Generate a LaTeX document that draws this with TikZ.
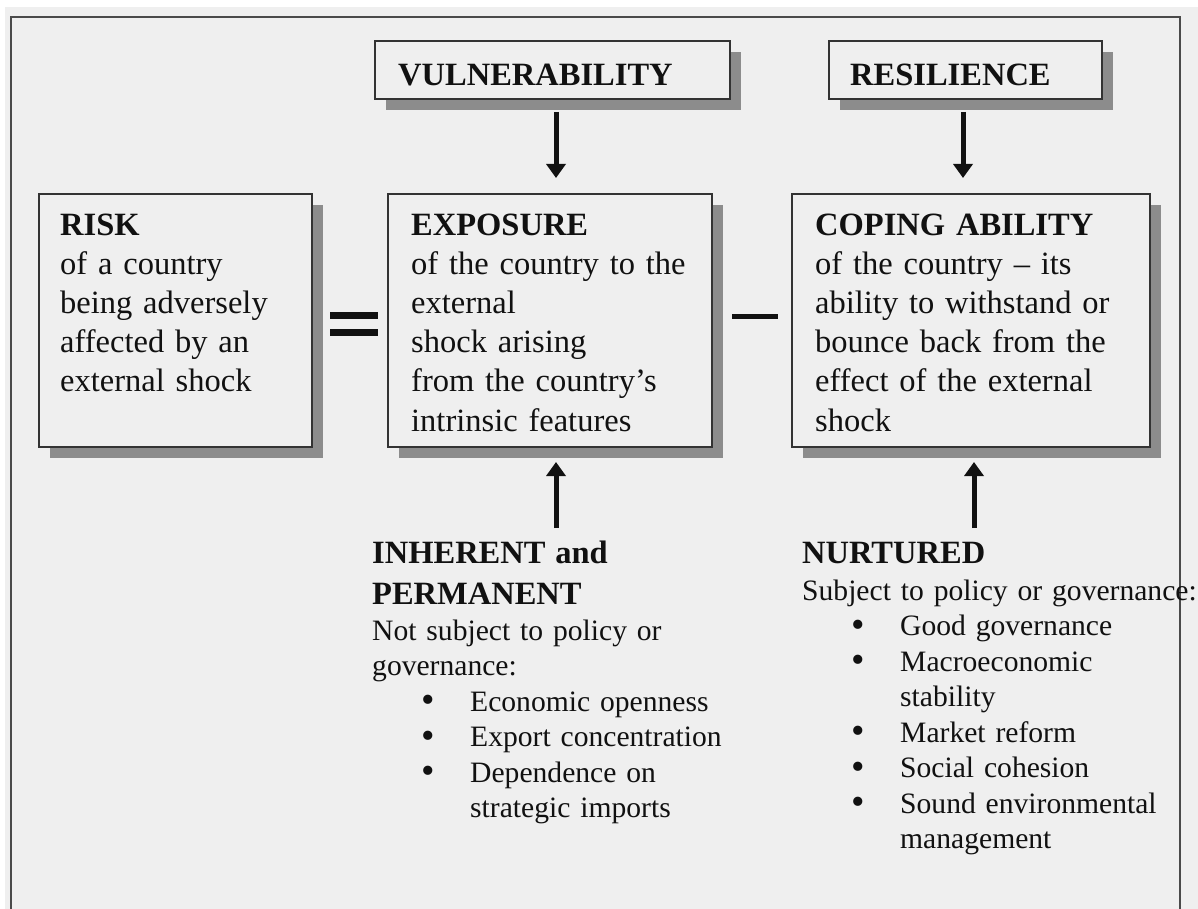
\documentclass[tikz,border=0pt]{standalone}
\usepackage{fontspec}
\setmainfont{Liberation Serif}
\usetikzlibrary{arrows.meta,shadows}
\definecolor{bgc}{HTML}{EFEFEF}
\definecolor{shadowc}{HTML}{8C8C8C}
\definecolor{boxline}{HTML}{333333}
\definecolor{framec}{HTML}{4A4A4A}
\definecolor{inkc}{HTML}{111111}
\newcommand{\bul}{\hspace*{49pt}\makebox[49pt][l]{\raisebox{-1.5pt}{\scalebox{1.3}{\textbullet}}}}
\newcommand{\ind}{\hspace*{98pt}}

\begin{document}
\begin{tikzpicture}[x=1pt,y=-1pt,
  box/.style={draw=boxline,line width=1.5pt,fill=bgc,anchor=north west,inner sep=0pt,outer sep=0pt,
    general shadow={fill=shadowc,shadow xshift=11pt,shadow yshift=-11pt}},
  boxtxt/.style={anchor=north west,inner sep=0pt,align=left,text width=#1,text=inkc,
    font=\fontsize{32.5pt}{39.2pt}\selectfont},
  listtxt/.style={anchor=north west,inner sep=0pt,align=left,text width=430pt,text=inkc,
    font=\fontsize{29.6pt}{35.5pt}\selectfont},
  arr/.style={line width=5pt,inkc,-{Triangle[width=19pt,length=14pt]}}]
\useasboundingbox (0,0) rectangle (1198,909);
\fill[white] (0,0) rectangle (1198,909);
\fill[bgc] (5,7) rectangle (1198,909);
\draw[framec,line width=2pt] (11,909) -- (11,17) -- (1180,17) -- (1180,909);

\node[box,minimum width=355pt,minimum height=58pt] (vuln) at (375,41) {};
\node[box,minimum width=273pt,minimum height=58pt] (resil) at (829,41) {};
\node[box,minimum width=273pt,minimum height=253pt] (risk) at (39,194) {};
\node[box,minimum width=324pt,minimum height=253pt] (expo) at (388,194) {};
\node[box,minimum width=358pt,minimum height=253pt] (cope) at (792,194) {};

\node[boxtxt=320pt] (vulnlbl) at ([xshift=23pt]vuln.north west) {\rule{0pt}{44pt}\textbf{VULNERABILITY}};
\node[boxtxt=240pt] (resillbl) at ([xshift=21pt]resil.north west) {\rule{0pt}{44pt}\textbf{RESILIENCE}};
\node[boxtxt=250pt] (risklbl) at ([xshift=21pt]risk.north west) {\rule{0pt}{41pt}\textbf{RISK}\\
  of a country\\ being adversely\\ affected by an\\ external shock};
\node[boxtxt=300pt] (expolbl) at ([xshift=23pt]expo.north west) {\rule{0pt}{41pt}\textbf{EXPOSURE}\\
  of the country to the\\ external\\ shock arising\\ from the country's\\ intrinsic features};
\node[boxtxt=330pt] (copelbl) at ([xshift=23pt]cope.north west) {\rule{0pt}{41pt}\textbf{COPING ABILITY}\\
  of the country -- its\\ ability to withstand or\\ bounce back from the\\ effect of the external\\ shock};

\fill[inkc] (330,312) rectangle (378,319);
\fill[inkc] (330,329) rectangle (378,336);
\fill[inkc] (732,314) rectangle (778,319);

\draw[arr] ([xshift=3.5pt,yshift=-13pt]vuln.south) -- ([xshift=6pt,yshift=16pt]expo.north);
\draw[arr] ([xshift=-2.5pt,yshift=-13pt]resil.south) -- ([xshift=-8pt,yshift=16pt]cope.north);

\node[listtxt] (inh) at (372,533) {\rule{0pt}{30pt}{\fontsize{32.5pt}{35.5pt}\selectfont\bfseries INHERENT and\\[5.5pt] PERMANENT}\\[0.5pt]
  Not subject to policy or\\ governance:\\ \bul Economic openness\\ \bul Export concentration\\
  \bul Dependence on\\ \ind strategic imports};
\node[listtxt] (nurt) at (802,533) {\rule{0pt}{30pt}{\fontsize{32.5pt}{35.5pt}\selectfont\bfseries NURTURED}\\[1.5pt]
  Subject to policy or governance:\\ \bul Good governance\\ \bul Macroeconomic\\ \ind stability\\
  \bul Market reform\\ \bul Social cohesion\\ \bul Sound environmental\\ \ind management};

\coordinate (inhtop) at (556,528);
\coordinate (nurttop) at (974,528);
\draw[arr] (inhtop) -- ([xshift=6pt,yshift=-15pt]expo.south);
\draw[arr] (nurttop) -- ([xshift=3pt,yshift=-15pt]cope.south);
\end{tikzpicture}
\end{document}
